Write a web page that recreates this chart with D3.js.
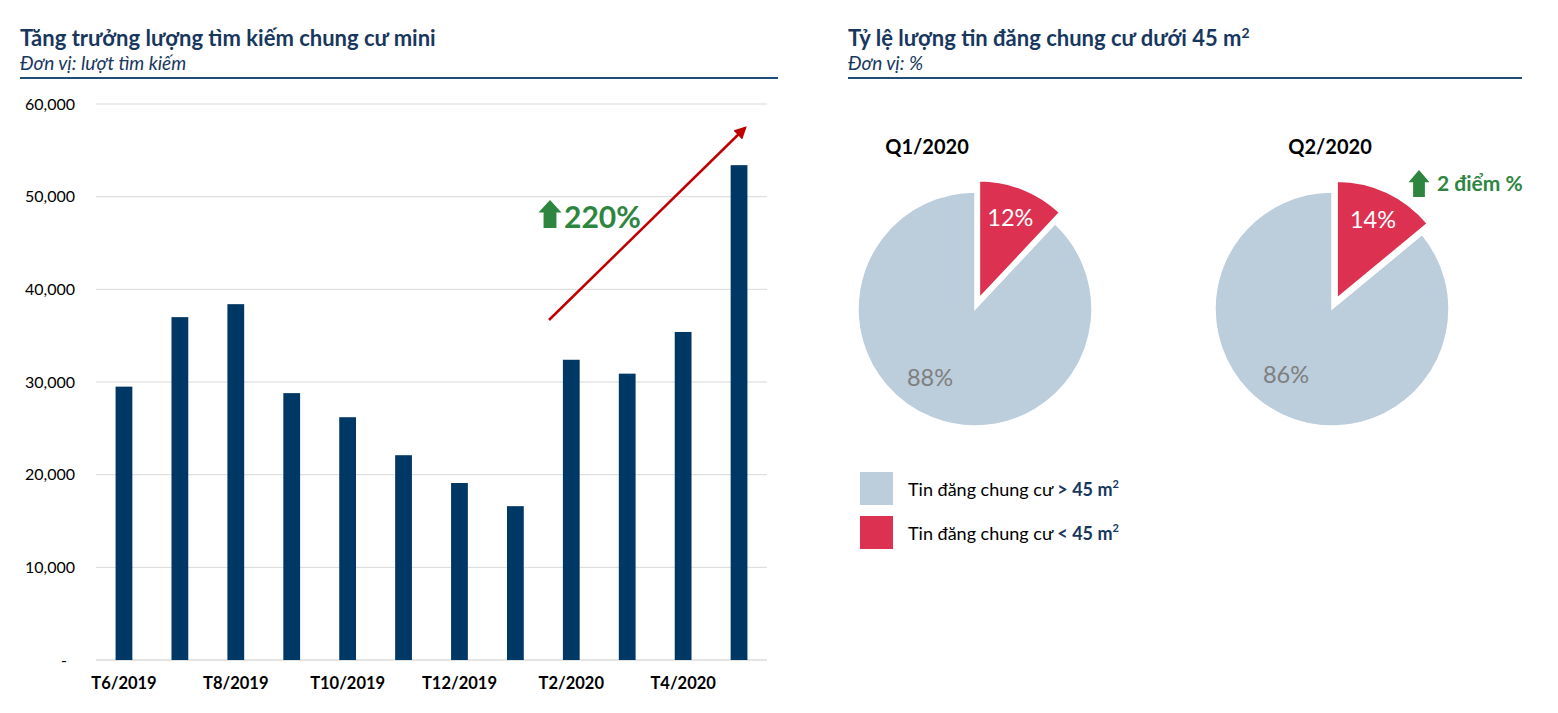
<!DOCTYPE html>
<html>
<head>
<meta charset="utf-8">
<script src="https://cdn.jsdelivr.net/npm/d3@7"></script>
<style>
  body { margin: 0; background: #fff; }
  svg { display: block; font-family: Lato, "Open Sans", sans-serif; }
</style>
</head>
<body>
<svg id="chart" width="1558" height="713"></svg>
<script>
// ---- Data ----
const months = ["T6/2019","T7/2019","T8/2019","T9/2019","T10/2019","T11/2019","T12/2019","T1/2020","T2/2020","T3/2020","T4/2020","T5/2020"];
const searches = [29500, 37000, 38400, 28800, 26200, 22100, 19100, 16600, 32400, 30900, 35400, 53400];
const yTicks = [0, 10000, 20000, 30000, 40000, 50000, 60000];
const shownMonths = ["T6/2019","T8/2019","T10/2019","T12/2019","T2/2020","T4/2020"];

const pieQuarters = ["Q1/2020", "Q2/2020"];
const shareOver45 = [88, 86];
const shareUnder45 = [12, 14];
const legendLabels = ["> 45 m", "< 45 m"];

const growthLabel = "220%";
const changeLabel = "2 điểm %";

// ---- Styles ----
const navy = "#17375e";
const barColor = "#003865";
const grey = "#bccddb";
const red = "#dc3150";
const green = "#2e8540";
const darkRed = "#c00000";

const svg = d3.select("#chart");

// ---- Left header ----
svg.append("text").attr("x", 20).attr("y", 46).attr("fill", navy)
  .attr("font-size", 22).attr("font-weight", "bold").text("Tăng trưởng lượng tìm kiếm chung cư mini");
svg.append("text").attr("x", 20).attr("y", 70).attr("fill", navy)
  .attr("font-size", 19).attr("font-style", "italic").text("Đơn vị: lượt tìm kiếm");
svg.append("line").attr("x1", 20).attr("x2", 778).attr("y1", 78).attr("y2", 78)
  .attr("stroke", "#1f4e79").attr("stroke-width", 2);

// ---- Bar chart ----
const x = d3.scaleBand().domain(months).range([96, 767]).paddingInner(0.7).paddingOuter(0.35);
const y = d3.scaleLinear().domain([0, 60000]).range([660, 104]);

const gGrid = svg.append("g");
gGrid.selectAll("line").data(yTicks).join("line")
  .attr("x1", 96).attr("x2", 767)
  .attr("y1", d => y(d)).attr("y2", d => y(d))
  .attr("stroke", d => d === 0 ? "#c8c8c8" : "#d9d9d9").attr("stroke-width", 1);

const yAxis = d3.axisLeft(y).tickValues(yTicks).tickSize(0).tickPadding(0)
  .tickFormat(d => d === 0 ? "-" : d3.format(",")(d));
const gy = svg.append("g").attr("transform", "translate(75,0)").call(yAxis);
gy.select(".domain").remove();
gy.selectAll("text").attr("font-size", 16).attr("fill", "#000")
  .attr("font-family", "Lato, sans-serif");
gy.selectAll(".tick").filter(d => d === 0).select("text").attr("dx", -8);

svg.append("g").selectAll("rect").data(searches).join("rect")
  .attr("x", (d, i) => x(months[i]))
  .attr("width", x.bandwidth())
  .attr("y", d => y(d))
  .attr("height", d => y(0) - y(d))
  .attr("fill", barColor);

const xAxis = d3.axisBottom(x).tickSize(0).tickPadding(0)
  .tickFormat(d => shownMonths.includes(d) ? d : "");
const gx = svg.append("g").attr("transform", "translate(0,677)").call(xAxis);
gx.select(".domain").remove();
gx.selectAll("text").attr("font-size", 16.5).attr("font-weight", "bold").attr("fill", "#000")
  .attr("font-family", "Lato, sans-serif");

// ---- Growth annotation ----
const defs = svg.append("defs");
defs.append("marker").attr("id", "arrowRed").attr("viewBox", "0 0 10 10")
  .attr("refX", 8).attr("refY", 5).attr("markerWidth", 5).attr("markerHeight", 5)
  .attr("orient", "auto")
  .append("path").attr("d", "M0,0 L10,5 L0,10 z").attr("fill", darkRed);
svg.append("line").attr("x1", 549).attr("y1", 320).attr("x2", 745).attr("y2", 128)
  .attr("stroke", darkRed).attr("stroke-width", 2.5).attr("marker-end", "url(#arrowRed)");

function upArrow(g, cx, top, w, h) {
  const hw = w / 2, sw = w * 0.28, hh = h * 0.45;
  g.append("path")
    .attr("d", `M${cx},${top} L${cx + hw},${top + hh} L${cx + sw},${top + hh} L${cx + sw},${top + h} L${cx - sw},${top + h} L${cx - sw},${top + hh} L${cx - hw},${top + hh} Z`)
    .attr("fill", green);
}
upArrow(svg, 550, 200, 23, 28);
svg.append("text").attr("x", 564).attr("y", 228).attr("fill", green)
  .attr("font-size", 30).attr("font-weight", "bold").text(growthLabel);

// ---- Right header ----
const rTitle = svg.append("text").attr("x", 848).attr("y", 46).attr("fill", navy)
  .attr("font-size", 22).attr("font-weight", "bold");
rTitle.append("tspan").text("Tỷ lệ lượng tin đăng chung cư dưới 45 m");
rTitle.append("tspan").attr("font-size", 14).attr("dy", -8).text("2");
svg.append("text").attr("x", 848).attr("y", 70).attr("fill", navy)
  .attr("font-size", 19).attr("font-style", "italic").text("Đơn vị: %");
svg.append("line").attr("x1", 848).attr("x2", 1522).attr("y1", 78).attr("y2", 78)
  .attr("stroke", "#1f4e79").attr("stroke-width", 2);

// ---- Pies ----
const pieCenters = [[975, 309], [1332, 309]];
const titleX = [927, 1330];
const bigLabelPos = [[-45, 68], [-46, 65]];
const radius = 117;
const explode = 12;
const pie = d3.pie().sort(null).value(d => d.v);
const arc = d3.arc().innerRadius(0).outerRadius(radius);

pieQuarters.forEach((q, i) => {
  const [cx, cy] = pieCenters[i];
  const g = svg.append("g").attr("transform", `translate(${cx},${cy})`);
  const data = [{k: "under", v: shareUnder45[i]}, {k: "over", v: shareOver45[i]}];
  const arcs = pie(data);
  arcs.forEach(a => {
    const mid = (a.startAngle + a.endAngle) / 2;
    const off = a.data.k === "under" ? explode : 0;
    const dx = Math.sin(mid) * off, dy = -Math.cos(mid) * off;
    g.append("path").attr("d", arc(a))
      .attr("transform", `translate(${dx},${dy})`)
      .attr("fill", a.data.k === "under" ? red : grey)
      .attr("stroke", "#fff").attr("stroke-width", 1.5);
    const lr = radius * 0.72;
    const lx = Math.sin(mid) * (lr + off), ly = -Math.cos(mid) * (lr + off) - 3;
    g.append("text")
      .attr("x", a.data.k === "under" ? lx : bigLabelPos[i][0])
      .attr("y", a.data.k === "under" ? ly : bigLabelPos[i][1])
      .attr("text-anchor", "middle").attr("dominant-baseline", "central")
      .attr("font-size", 23.5)
      .attr("fill", a.data.k === "under" ? "#fff" : "#7f7f7f")
      .text(a.data.v + "%");
  });
  svg.append("text").attr("x", titleX[i]).attr("y", 154)
    .attr("text-anchor", "middle").attr("font-size", 20).attr("font-weight", "bold")
    .attr("fill", "#000").text(q);
});

// change annotation
upArrow(svg, 1419, 170, 21, 27);
svg.append("text").attr("x", 1437).attr("y", 191).attr("fill", green)
  .attr("font-size", 21).attr("font-weight", "bold").text(changeLabel);

// ---- Legend ----
const legendColors = [grey, red];
legendLabels.forEach((lab, i) => {
  const ly = 472 + i * 44;
  svg.append("rect").attr("x", 860).attr("y", ly).attr("width", 33).attr("height", 33)
    .attr("fill", legendColors[i]);
  const t = svg.append("text").attr("x", 908).attr("y", ly + 24).attr("font-size", 18).attr("fill", "#000");
  t.append("tspan").text("Tin đăng chung cư ");
  t.append("tspan").attr("font-weight", "bold").attr("fill", navy).text(lab);
  t.append("tspan").attr("font-weight", "bold").attr("fill", navy).attr("font-size", 11).attr("dy", -8).text("2");
});
</script>
</body>
</html>
